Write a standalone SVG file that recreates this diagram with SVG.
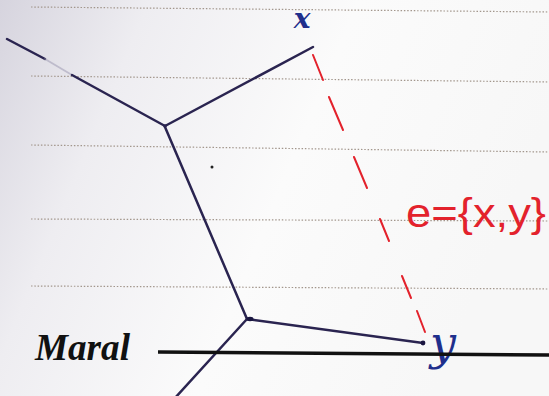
<svg xmlns="http://www.w3.org/2000/svg" width="549" height="396" viewBox="0 0 549 396">
  <defs>
    <linearGradient id="paper" x1="0" y1="0" x2="1" y2="0.3">
      <stop offset="0" stop-color="#d6d4de"/>
      <stop offset="0.25" stop-color="#eeedf1"/>
      <stop offset="0.6" stop-color="#fbfbfb"/>
      <stop offset="1" stop-color="#f7f7f7"/>
    </linearGradient>
  </defs>
  <style>
    .rule { stroke: #a2968c; stroke-width: 1.2; stroke-dasharray: 1.5 1.8; fill: none; }
    .edge { stroke: #2a2450; stroke-width: 2.5; stroke-linecap: round; fill: none; }
    .faint { stroke: #9a96b0; stroke-width: 1.8; opacity: 0.5; }
    .dashed { stroke: #e3222c; stroke-width: 2; stroke-linecap: round; fill: none; }
    .axis { stroke: #111; stroke-width: 3.6; fill: none; }
    .hand { font-family: "DejaVu Serif", serif; font-style: italic; fill: #1f2f8c; }
    .red { font-family: "Liberation Sans", sans-serif; fill: #e3222c; }
    .title { font-family: "Liberation Serif", serif; font-weight: bold; font-style: italic; fill: #111; }
  </style>
  <rect x="0" y="0" width="549" height="396" fill="url(#paper)"/>

  <g id="ruling">
    <line class="rule" x1="31" y1="7" x2="549" y2="12"/>
    <line class="rule" x1="31" y1="76" x2="549" y2="82"/>
    <line class="rule" x1="31" y1="145" x2="549" y2="152"/>
    <line class="rule" x1="31" y1="219" x2="549" y2="221"/>
    <line class="rule" x1="31" y1="286" x2="549" y2="289"/>
  </g>

  <g id="connectors">
    <line class="edge" x1="7" y1="39" x2="45" y2="59"/>
    <line class="edge faint" x1="45" y1="59" x2="72" y2="75"/>
    <line class="edge" x1="72" y1="75" x2="165" y2="126"/>
    <line class="edge" x1="165" y1="126" x2="313" y2="47"/>
    <line class="edge" x1="165" y1="127" x2="247" y2="319"/>
    <line class="edge" x1="247" y1="319" x2="423" y2="343"/>
    <line class="edge" x1="247" y1="319" x2="175" y2="398"/>
    <path class="dashed" d="M313,55 L323,80 M329,97 L343,130 M354,157 L367,188 M380,219 L389,241 M402,276 L411,298 M417,311 L425,332"/>
  </g>

  <g id="node-junction-a">
    <circle cx="165" cy="126" r="1.8" fill="#2a2450"/>
  </g>
  <g id="node-junction-b">
    <ellipse cx="250" cy="319" rx="3.5" ry="2.2" fill="#1a1640"/>
  </g>
  <g id="mark">
    <circle cx="212" cy="167" r="1.5" fill="#222"/>
  </g>

  <g id="node-x">
    <text class="hand" x="302" y="28" font-size="28" font-weight="bold" text-anchor="middle">x</text>
  </g>
  <g id="node-y">
    <circle cx="423" cy="343" r="2.4" fill="#1a1640"/>
    <text class="hand" x="443" y="359" font-size="46" text-anchor="middle">y</text>
  </g>

  <g id="edge-label">
    <text class="red" x="406" y="227" font-size="40" textLength="140" lengthAdjust="spacingAndGlyphs">e={x,y}</text>
  </g>

  <g id="maral">
    <text class="title" x="35" y="360" font-size="38" textLength="95" lengthAdjust="spacingAndGlyphs">Maral</text>
    <line class="axis" x1="158" y1="352" x2="549" y2="355"/>
  </g>
</svg>
